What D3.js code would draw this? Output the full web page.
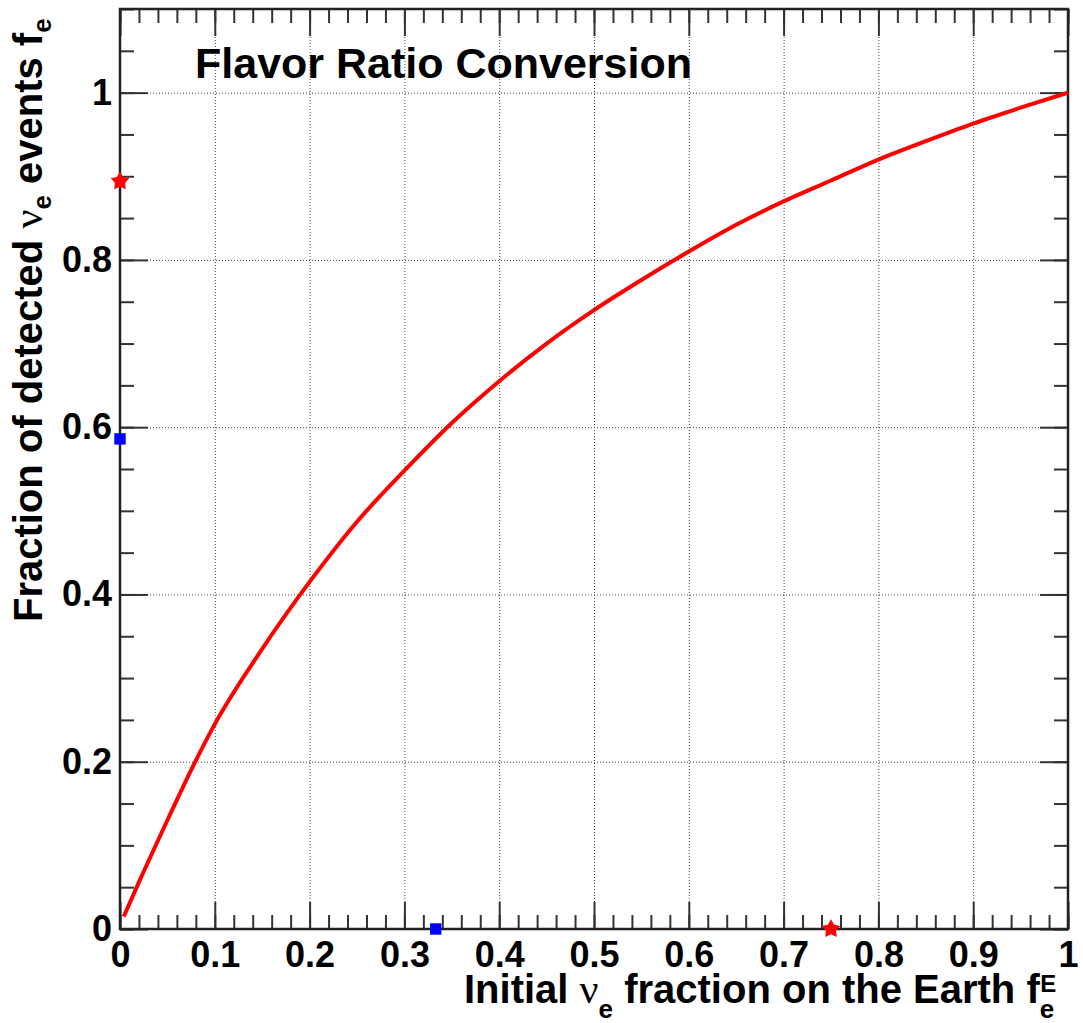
<!DOCTYPE html>
<html>
<head>
<meta charset="utf-8">
<script src="https://cdn.jsdelivr.net/npm/d3@7"></script>
<style>
  html, body { margin: 0; padding: 0; background: #fff; }
  svg { display: block; }
  text { font-family: "Liberation Sans", Arial, Helvetica, sans-serif; font-weight: bold; fill: #000; }
</style>
</head>
<body>
<svg id="chart" width="1083" height="1023"></svg>
<script>
// Initial electron-neutrino fraction on Earth vs. fraction of detected nu_e events
const fEarth = [0.004, 0.02, 0.05, 0.075, 0.1, 0.15, 0.2, 0.25, 0.3, 0.35, 0.4, 0.45,
                0.5, 0.55, 0.6, 0.65, 0.7, 0.75, 0.8, 0.85, 0.9, 0.95, 1.0];
const fDetected = [0.015, 0.056, 0.13, 0.19, 0.245, 0.335, 0.415, 0.487, 0.548, 0.605, 0.655, 0.70,
                   0.74, 0.776, 0.81, 0.842, 0.870, 0.895, 0.920, 0.942, 0.963, 0.982, 1.0];

// Reference markers: stars (red) and squares (blue)
const starPoints = [[0.0, 0.894], [0.75, 0.0]];
const squarePoints = [[0.0, 0.586], [0.333, 0.0]];

// Axis ticks and labels
const xTicks = [0, 0.1, 0.2, 0.3, 0.4, 0.5, 0.6, 0.7, 0.8, 0.9, 1.0];
const xTickLabels = ["0", "0.1", "0.2", "0.3", "0.4", "0.5", "0.6", "0.7", "0.8", "0.9", "1"];
const yTicks = [0, 0.2, 0.4, 0.6, 0.8, 1.0];
const yTickLabels = ["0", "0.2", "0.4", "0.6", "0.8", "1"];
const xMinorTicks = d3.range(0, 1.0001, 0.02);
const yMinorTicks = d3.range(0, 1.1001, 0.05);

const svg = d3.select("#chart");
const L = 120, R = 1068, T = 9, B = 929;

const x = d3.scaleLinear().domain([0, 1]).range([L, R]);
const y = d3.scaleLinear().domain([0, 1.1]).range([B, T]);

const tickColor = "#333";

// Grid (dotted, at major ticks)
const gridX = svg.append("g").attr("transform", `translate(0,${B})`)
  .call(d3.axisBottom(x).tickValues(xTicks).tickSize(-(B - T)).tickFormat(""));
const gridY = svg.append("g").attr("transform", `translate(${L},0)`)
  .call(d3.axisLeft(y).tickValues(yTicks).tickSize(-(R - L)).tickFormat(""));
[gridX, gridY].forEach(g => {
  g.select(".domain").remove();
  g.selectAll("line").attr("stroke", "#444").attr("stroke-width", 1).attr("stroke-dasharray", "1,2");
});

function styleTicks(g) {
  g.select(".domain").remove();
  g.selectAll("line").attr("stroke", tickColor).attr("stroke-width", 2);
}

// Bottom axis: major with labels, minor without
const xLab = svg.append("g").attr("transform", `translate(0,${B})`)
  .call(d3.axisBottom(x).tickValues(xTicks).tickSize(-27).tickPadding(12)
    .tickFormat((d, i) => xTickLabels[i]));
styleTicks(xLab);
xLab.selectAll("text").attr("font-size", 36).attr("font-family", null).attr("fill", "#000");
styleTicks(svg.append("g").attr("transform", `translate(0,${B})`)
  .call(d3.axisBottom(x).tickValues(xMinorTicks).tickSize(-14).tickFormat("")));

// Top axis (mirrored ticks)
styleTicks(svg.append("g").attr("transform", `translate(0,${T})`)
  .call(d3.axisTop(x).tickValues(xTicks).tickSize(-27).tickFormat("")));
styleTicks(svg.append("g").attr("transform", `translate(0,${T})`)
  .call(d3.axisTop(x).tickValues(xMinorTicks).tickSize(-14).tickFormat("")));

// Left axis
const yLab = svg.append("g").attr("transform", `translate(${L},0)`)
  .call(d3.axisLeft(y).tickValues(yTicks).tickSize(-28).tickPadding(8)
    .tickFormat((d, i) => yTickLabels[i]));
styleTicks(yLab);
yLab.selectAll("text").attr("font-size", 36).attr("font-family", null).attr("fill", "#000");
styleTicks(svg.append("g").attr("transform", `translate(${L},0)`)
  .call(d3.axisLeft(y).tickValues(yMinorTicks).tickSize(-14).tickFormat("")));

// Right axis (mirrored ticks)
styleTicks(svg.append("g").attr("transform", `translate(${R},0)`)
  .call(d3.axisRight(y).tickValues(yTicks).tickSize(-28).tickFormat("")));
styleTicks(svg.append("g").attr("transform", `translate(${R},0)`)
  .call(d3.axisRight(y).tickValues(yMinorTicks).tickSize(-14).tickFormat("")));

// Frame
svg.append("rect").attr("x", L).attr("y", T).attr("width", R - L).attr("height", B - T)
  .attr("fill", "none").attr("stroke", "#222").attr("stroke-width", 2.5);

// Conversion curve
const line = d3.line().x((d, i) => x(fEarth[i])).y(d => y(d)).curve(d3.curveMonotoneX);
svg.append("path").datum(fDetected).attr("d", line)
  .attr("fill", "none").attr("stroke", "#ff0000").attr("stroke-width", 4)
  .attr("stroke-linejoin", "round");

// A plump five-pointed star marker
const fatStar = {
  draw(context, size) {
    const ro = Math.sqrt(size) / 2, ri = ro * 0.55;
    for (let k = 0; k < 10; k++) {
      const r = k % 2 === 0 ? ro : ri;
      const a = -Math.PI / 2 + k * Math.PI / 5;
      const px = r * Math.cos(a), py = r * Math.sin(a);
      if (k === 0) context.moveTo(px, py); else context.lineTo(px, py);
    }
    context.closePath();
  }
};

// Markers
svg.selectAll(".star").data(starPoints).join("path").attr("class", "star")
  .attr("transform", d => `translate(${x(d[0])},${y(d[1])})`)
  .attr("d", d3.symbol(fatStar, 380)).attr("fill", "#ff0000");
svg.selectAll(".sq").data(squarePoints).join("path").attr("class", "sq")
  .attr("transform", d => `translate(${x(d[0])},${y(d[1])})`)
  .attr("d", d3.symbol(d3.symbolSquare, 130)).attr("fill", "#0000ff");

// Title
svg.append("text").attr("x", 195).attr("y", 78).attr("font-size", 43)
  .text("Flavor Ratio Conversion");

// Greek letters set in a light serif face
const greek = s => s.append("tspan").attr("font-family", "'Liberation Serif', 'DejaVu Serif', serif")
  .attr("font-weight", "normal").attr("font-size", 42).text("\u03bd");

// X-axis title
const xt = svg.append("text").attr("x", 464).attr("y", 1003).attr("font-size", 40);
xt.append("tspan").text("Initial ");
greek(xt);
xt.append("tspan").attr("font-size", 26).attr("dy", 15).text("e");
xt.append("tspan").attr("dy", -15).text(" fraction on the Earth f");
xt.append("tspan").attr("font-size", 26).attr("dy", 15).text("e");
xt.append("tspan").attr("font-size", 24).attr("dx", -14).attr("dy", -26).text("E");

// Y-axis title
const yt = svg.append("text").attr("transform", "translate(42,622) rotate(-90)").attr("font-size", 40);
yt.append("tspan").text("Fraction of detected ");
greek(yt);
yt.append("tspan").attr("font-size", 26).attr("dy", 9).text("e");
yt.append("tspan").attr("dy", -9).text(" events f");
yt.append("tspan").attr("font-size", 26).attr("dy", 9).text("e");
</script>
</body>
</html>
